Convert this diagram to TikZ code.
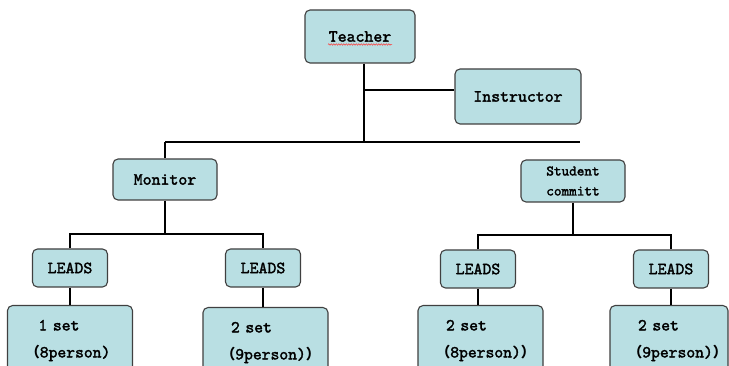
\documentclass[tikz,border=0pt]{standalone}
\usepackage{fontspec}
\setmonofont{lmmono10-regular.otf}[BoldFont=lmmono10-regular.otf,BoldFeatures={FakeBold=2}]
\newfontfamily\cjk[Scale=0.85]{Noto Sans CJK SC}
\definecolor{BoxBlue}{HTML}{B9DFE3}
\definecolor{BoxEdge}{HTML}{404040}
\usetikzlibrary{positioning,decorations.pathmorphing}

\begin{document}
\begin{tikzpicture}[x=1pt,y=-1pt,
  box/.style={draw=BoxEdge,line width=1.1pt,rounded corners=5pt,fill=BoxBlue,inner sep=2pt,
    font=\ttfamily\bfseries\fontsize{17}{20}\selectfont},
  leadbox/.style={box,minimum width=75pt,minimum height=38pt},
  setbox/.style={box,anchor=north,minimum height=70pt,inner xsep=18pt,align=left,
    font=\ttfamily\bfseries\fontsize{16.8}{27}\selectfont},
  link/.style={line width=1.8pt},
  spell/.style={red!80,line width=0.5pt,decorate,decoration={snake,amplitude=0.7pt,segment length=2.5pt}}]
  \useasboundingbox[fill=white] (0,0) rectangle (729,366);

  \node[box,minimum width=110pt,minimum height=53pt] (teacher) at (360,36.5) {Teacher};
  \node[box,minimum width=126pt,minimum height=55pt] (instr) at (518,96.5) {Instructor};
  \node[box,minimum width=104pt,minimum height=41pt] (monitor) at (165,179.5) {Monitor};
  \node[box,minimum width=104pt,minimum height=42pt,align=center,
    font=\ttfamily\bfseries\fontsize{14.5}{20}\selectfont] (student) at (573,181) {Student\\committ};

  \node[leadbox] (lead1) at (70,268) {LEADS};
  \node[leadbox] (lead2) at (263,268) {LEADS};
  \node[leadbox] (lead3) at (478,269) {LEADS};
  \node[leadbox] (lead4) at (671,269) {LEADS};

  \node[setbox,minimum width=125pt,text width=89pt] (set1) at (70,305) {\hspace*{13pt}1 set\\{\cjk （}8person)};
  \node[setbox,minimum width=125pt,text width=89pt] (set2) at (265.5,307) {\hspace*{10pt}2 set\\{\cjk （}9person){\cjk ）}};
  \node[setbox,minimum width=125pt,text width=89pt] (set3) at (480.5,305) {\hspace*{10pt}2 set\\{\cjk （}8person){\cjk ）}};
  \node[setbox,minimum width=118pt,text width=82pt] (set4) at (669,305) {\hspace*{10pt}2 set\\{\cjk （}9person){\cjk ）}};

  \draw[spell] ([xshift=-32pt,yshift=-8pt]teacher.center) -- ([xshift=32pt,yshift=-8pt]teacher.center);

  \coordinate (tdrop) at (364,142);
  \coordinate (ibr) at (364,90);
  \coordinate (busL) at (165,142);
  \coordinate (busR) at (580,142);
  \coordinate (mj) at (165,234);
  \coordinate (sj) at (573,235);

  \draw[link] (teacher.south -| tdrop) -- (tdrop);
  \draw[link] (ibr) -- (ibr -| instr.west);
  \draw[link] (busL) -- (busR);
  \draw[link] (busL) -- (monitor.north);
  \draw[link] (monitor.south) -- (mj);
  \draw[link] (lead1.north) |- (mj) -| (lead2.north);
  \draw[link] (student.south) -- (sj);
  \draw[link] (lead3.north) |- (sj) -| (lead4.north);
  \draw[link] (lead1.south) -- (lead1.south |- set1.north);
  \draw[link] (lead2.south) -- (lead2.south |- set2.north);
  \draw[link] (lead3.south) -- (lead3.south |- set3.north);
  \draw[link] (lead4.south) -- (lead4.south |- set4.north);
\end{tikzpicture}
\end{document}
